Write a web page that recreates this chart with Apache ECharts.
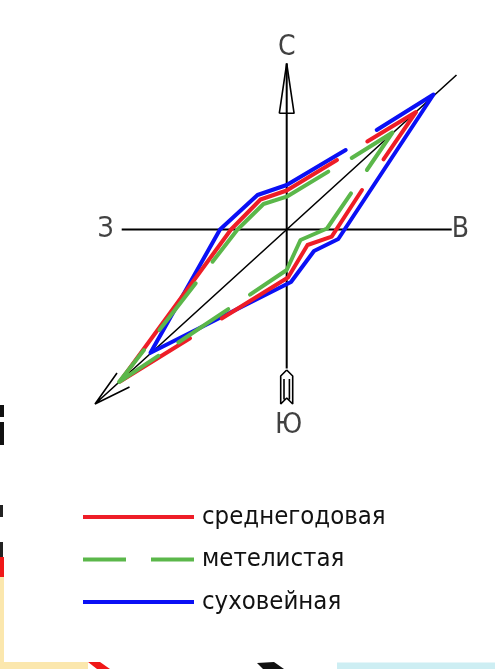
<!DOCTYPE html>
<html>
<head>
<meta charset="utf-8">
<title>Роза ветров</title>
<script src="https://cdn.jsdelivr.net/npm/echarts@6/dist/echarts.min.js"></script>
<style>
  html, body { margin: 0; padding: 0; background: #fff; }
  #chart { width: 495px; height: 669px; }
</style>
</head>
<body>
<div id="chart"></div>
<script>
// точки розы ветров: [восток, север] в условных единицах, null — разрыв линии
var seriesNames = ['среднегодовая', 'метелистая', 'суховейная'];

var meanAnnual = [
  [8.06, 8.80], [12.93, 11.75], [9.68, 7.02], null,
  [7.53, 3.95], [4.50, -0.72], [2.08, -1.55], [0.13, -4.80], [-6.50, -8.90], null,
  [-9.67, -10.87], [-16.67, -15.20], [-5.57, 0], [-2.62, 3.00], [0, 3.90], [5.03, 6.95]
];

var blizzard = [
  [-3.67, -6.52], [0, -4.05], [1.38, -1.05], [4.03, 0.10], [6.43, 3.62], null,
  [8.02, 5.95], [10.58, 9.70], [6.50, 7.15], null,
  [4.16, 5.79], [0, 3.28], [-2.32, 2.55], [-4.92, 0], [-7.42, -3.22], null,
  [-9.10, -5.38], [-12.73, -10.05], null,
  [-14.27, -12.05], [-16.77, -15.25], [-12.84, -12.63], null,
  [-10.84, -11.30], [-5.84, -7.96]
];

var dryWind = [
  [9.00, 9.95], [14.68, 13.50], [5.16, -0.95], [2.73, -2.15], [0.43, -5.25],
  [-13.62, -12.33], [-6.67, 0], [-2.92, 3.45], [0, 4.45], [5.90, 7.95]
];

// стороны света
var compassLabels = ['С', 'В', 'Ю', 'З'];

// оси З-В и Ю-С
var compassAxes = [
  [-16.5, 0], [16.5, 0], null,
  [0, 16.6], [0, -13.9]
];

// диагональ со стрелкой, наконечник севера, оперение юга
var compassLines = [
  [16.98, 15.45], [-19.17, -17.45], null,
  [-16.97, -14.35], [-19.17, -17.45], [-15.72, -15.75], null,
  [-0.74, 11.62], [0, 16.62], [0.74, 11.62], [-0.74, 11.62], null,
  [0, -14.05], [-0.6, -14.65], [-0.6, -17.45], [0, -16.85], [0.6, -17.45], [0.6, -14.65], [0, -14.05], null,
  [-0.27, -14.95], [-0.27, -17.0], null,
  [0.27, -14.95], [0.27, -17.0]
];
var labelAnchors = [[0, 18.15], [17.38, 0], [0.2, -19.65], [-18.12, 0]];

var FONT = '"DejaVu Sans Condensed", "DejaVu Sans", sans-serif';

function withGaps(list) {
  return list.map(function (p) { return p === null ? ['-', '-'] : p; });
}

function roseSeries(name, data, color, z) {
  return {
    name: name,
    type: 'line',
    data: withGaps(data),
    symbol: 'none',
    connectNulls: false,
    clip: false,
    silent: true,
    z: z,
    lineStyle: { color: color, width: 4, cap: 'round', join: 'round' },
    itemStyle: { color: color }
  };
}

function blackLines(name, data, width) {
  return {
    name: name,
    type: 'line',
    data: withGaps(data),
    symbol: 'none',
    connectNulls: false,
    clip: false,
    silent: true,
    z: 1,
    lineStyle: { color: '#000', width: width }
  };
}

var chart = echarts.init(document.getElementById('chart'), null, { renderer: 'canvas' });

chart.setOption({
  animation: false,
  backgroundColor: '#fff',
  grid: { left: 86.7, top: 29.5, width: 400, height: 400 },
  xAxis: { type: 'value', min: -20, max: 20, show: false },
  yAxis: { type: 'value', min: -20, max: 20, show: false },
  legend: {
    data: [
      { name: seriesNames[0], icon: 'rect' },
      { name: seriesNames[1], icon: 'path://M0,0h43v4h-43z M68,0h43v4h-43z' },
      { name: seriesNames[2], icon: 'rect' }
    ],
    orient: 'vertical',
    left: 83, top: 502,
    padding: 0,
    itemWidth: 111, itemHeight: 4, itemGap: 12.5,
    selectedMode: false,
    itemStyle: { borderWidth: 0 },
    textStyle: { fontFamily: FONT, fontSize: 25.5, color: '#111', lineHeight: 30, padding: [0, 0, 0, 3] }
  },
  series: [
    blackLines('оси', compassAxes, 2),
    blackLines('компас', compassLines, 1.6),
    roseSeries(seriesNames[2], dryWind, '#0a10f5', 3),
    roseSeries(seriesNames[0], meanAnnual, '#ee1d27', 4),
    roseSeries(seriesNames[1], blizzard, '#5bb74a', 5),
    {
      name: 'стороны',
      type: 'scatter',
      data: labelAnchors.map(function (p, i) { return [p[0], p[1], compassLabels[i]]; }),
      symbolSize: 0,
      clip: false,
      silent: true,
      itemStyle: { color: 'transparent' },
      label: {
        show: true, position: 'inside',
        formatter: function (p) { return p.value[2]; },
        fontFamily: FONT, fontSize: 28, color: '#111'
      }
    }
  ],
  graphic: [
    // края соседних листов чертежа
    { type: 'rect', shape: { x: 0, y: 405, width: 4, height: 12 }, style: { fill: '#111' } },
    { type: 'rect', shape: { x: 0, y: 422, width: 4, height: 23 }, style: { fill: '#111' } },
    { type: 'rect', shape: { x: 0, y: 505, width: 3, height: 12 }, style: { fill: '#222' } },
    { type: 'rect', shape: { x: 0, y: 542, width: 3, height: 15 }, style: { fill: '#222' } },
    { type: 'rect', shape: { x: 0, y: 557, width: 4, height: 20 }, style: { fill: '#f01818' } },
    { type: 'rect', shape: { x: 0, y: 577, width: 4, height: 92 }, style: { fill: '#fbe7ad' } },
    { type: 'rect', shape: { x: 0, y: 662, width: 88, height: 7 }, style: { fill: '#fbe7ad' } },
    { type: 'polygon', shape: { points: [[88, 662], [100, 662], [110, 669], [97, 669]] }, style: { fill: '#f01818' } },
    { type: 'polygon', shape: { points: [[257, 663], [274, 662], [284, 669], [263, 669]] }, style: { fill: '#111' } },
    { type: 'rect', shape: { x: 337, y: 662.5, width: 158, height: 6.5 }, style: { fill: '#cdeef3' } }
  ]
});
</script>
</body>
</html>
